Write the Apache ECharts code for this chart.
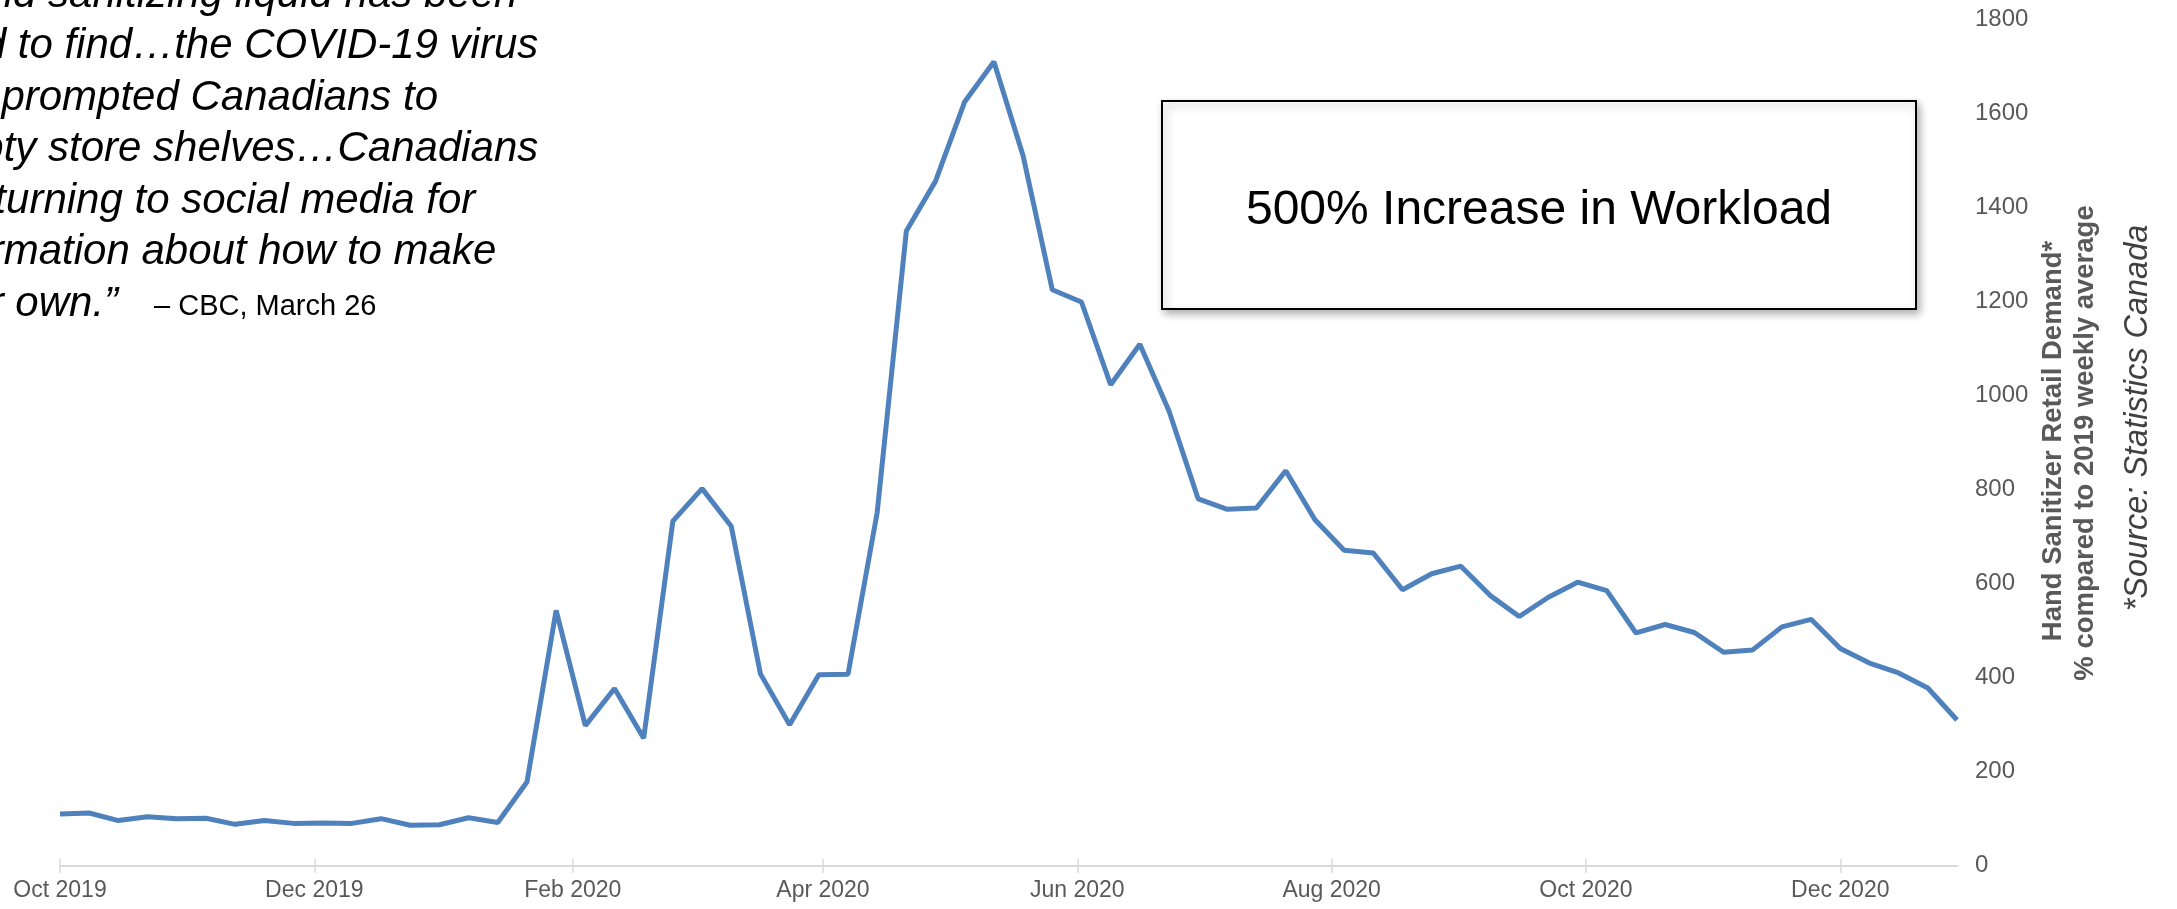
<!DOCTYPE html>
<html lang="en">
	<head>
		<meta charset="utf-8">
	</head>
	<body style="margin: 0">
		<div id="container" style="width: 2177px; height: 909px"></div>
		<script type="text/javascript" src="https://cdn.jsdelivr.net/npm/echarts@6/dist/echarts.min.js"></script>
		<script type="text/javascript">
			// weekly points, % of 2019 weekly average
			var weeks = [
				'2019-10-01', '2019-10-08', '2019-10-15', '2019-10-22', '2019-10-29', '2019-11-05', '2019-11-12', '2019-11-19',
				'2019-11-26', '2019-12-03', '2019-12-10', '2019-12-17', '2019-12-24', '2019-12-31', '2020-01-07', '2020-01-14',
				'2020-01-21', '2020-01-28', '2020-02-04', '2020-02-11', '2020-02-18', '2020-02-25', '2020-03-03', '2020-03-10',
				'2020-03-17', '2020-03-24', '2020-03-31', '2020-04-07', '2020-04-14', '2020-04-21', '2020-04-28', '2020-05-05',
				'2020-05-12', '2020-05-19', '2020-05-26', '2020-06-02', '2020-06-09', '2020-06-16', '2020-06-23', '2020-06-30',
				'2020-07-07', '2020-07-14', '2020-07-21', '2020-07-28', '2020-08-04', '2020-08-11', '2020-08-18', '2020-08-25',
				'2020-09-01', '2020-09-08', '2020-09-15', '2020-09-22', '2020-09-29', '2020-10-06', '2020-10-13', '2020-10-20',
				'2020-10-27', '2020-11-03', '2020-11-10', '2020-11-17', '2020-11-24', '2020-12-01', '2020-12-08', '2020-12-15',
				'2020-12-22', '2020-12-29'
			]
			var demand = [
				110, 112, 96, 104, 100, 101, 88, 96,
				90, 91, 90, 100, 86, 87, 102, 92,
				178, 543, 298, 377, 271, 733, 802, 722,
				408, 300, 406, 407, 751, 1350, 1456, 1625,
				1710, 1510, 1225, 1199, 1023, 1109, 967, 780,
				758, 761, 840, 736, 671, 665, 587, 621,
				637, 575, 530, 571, 603, 585, 495, 513,
				496, 454, 459, 508, 524, 462, 431, 410,
				378, 310
			]
			var tickDates = ['2019-10-01', '2019-12-01', '2020-02-01', '2020-04-01', '2020-06-01', '2020-08-01', '2020-10-01', '2020-12-01']
			var tickLabels = ['Oct 2019', 'Dec 2019', 'Feb 2020', 'Apr 2020', 'Jun 2020', 'Aug 2020', 'Oct 2020', 'Dec 2020']
			var quoteLines = [
				'\u201cHand sanitizing liquid has been',
				'hard to find\u2026the COVID-19 virus',
				'has prompted Canadians to',
				'empty store shelves\u2026Canadians',
				'are turning to social media for',
				'information about how to make',
				'their own.\u201d'
			]

			// dates -> day number (UTC, so no DST jumps)
			function toDay(s) {
				let p = s.split('-').map(Number)
				return Date.UTC(p[0], p[1] - 1, p[2]) / 86400000
			}
			var tickDays = tickDates.map(toDay)

			var chartDom = document.getElementById('container');
			var myChart = echarts.init(chartDom);
			var option;

			option = {
				animation: false,
				textStyle: {
					fontFamily: 'Liberation Sans'
				},
				grid: {
					left: 60,
					right: 220,
					top: 19.4,
					bottom: 43.3,
					outerBoundsMode: 'none'
				},
				xAxis: [{
						type: 'value',
						min: toDay(weeks[0]),
						max: toDay(weeks[weeks.length - 1]),
						axisLine: {
							lineStyle: {
								color: '#d9d9d9',
								width: 2
							}
						},
						axisTick: {
							length: 7,
							customValues: tickDays,
							lineStyle: {
								color: '#d9d9d9',
								width: 1.5
							}
						},
						axisLabel: {
							customValues: tickDays,
							margin: 13,
							color: '#595959',
							fontSize: 23,
							formatter: function(v) {
								return tickLabels[tickDays.indexOf(v)]
							}
						},
						splitLine: {
							show: false
						}
					},
					// same axis again, only for the upper half of the ticks
					{
						type: 'value',
						position: 'bottom',
						min: toDay(weeks[0]),
						max: toDay(weeks[weeks.length - 1]),
						axisLine: {
							show: false
						},
						axisTick: {
							inside: true,
							length: 7,
							customValues: tickDays,
							lineStyle: {
								color: '#d9d9d9',
								width: 1.5
							}
						},
						axisLabel: {
							show: false
						},
						splitLine: {
							show: false
						}
					}
				],
				yAxis: {
					type: 'value',
					position: 'right',
					min: 0,
					max: 1800,
					interval: 200,
					axisLine: {
						show: false
					},
					axisTick: {
						show: false
					},
					splitLine: {
						show: false
					},
					axisLabel: {
						margin: 18,
						color: '#595959',
						fontSize: 24,
						formatter: function(v) {
							return String(v)
						}
					}
				},
				series: [{
					name: 'Hand Sanitizer Retail Demand',
					type: 'line',
					symbol: 'none',
					lineStyle: {
						color: '#4f81bd',
						width: 5
					},
					emphasis: {
						disabled: true
					},
					data: weeks.map((d, i) => [toDay(d), demand[i]])
				}],
				graphic: [{
						type: 'text',
						x: -78,
						y: -30.5,
						style: {
							text: quoteLines.join('\n'),
							font: 'italic 42px "Liberation Sans"',
							lineHeight: 51.5,
							fill: '#000',
							verticalAlign: 'top'
						}
					},
					{
						type: 'text',
						x: 154,
						y: 307,
						style: {
							text: '\u2013 CBC, March 26',
							font: '29px "Liberation Sans"',
							fill: '#000',
							verticalAlign: 'middle'
						}
					},
					{
						type: 'rect',
						shape: {
							x: 1162,
							y: 101,
							width: 754,
							height: 208
						},
						style: {
							fill: '#fff',
							stroke: '#000',
							lineWidth: 2,
							shadowBlur: 8,
							shadowOffsetX: 3,
							shadowOffsetY: 4,
							shadowColor: 'rgba(0,0,0,0.3)'
						}
					},
					{
						type: 'text',
						x: 1539,
						y: 211,
						style: {
							text: '500% Increase in Workload',
							font: '48px "Liberation Sans"',
							fill: '#000',
							align: 'center',
							verticalAlign: 'middle',
							shadowBlur: 4,
							shadowOffsetX: 2,
							shadowOffsetY: 3,
							shadowColor: 'rgba(0,0,0,0.35)'
						}
					},
					// y axis title, two lines, plus the source
					{
						type: 'text',
						x: 2053,
						y: 441,
						rotation: Math.PI / 2,
						style: {
							text: 'Hand Sanitizer Retail Demand*',
							font: 'bold 27.5px "Liberation Sans"',
							fill: '#595959',
							align: 'center',
							verticalAlign: 'middle'
						}
					},
					{
						type: 'text',
						x: 2085,
						y: 443,
						rotation: Math.PI / 2,
						style: {
							text: '% compared to 2019 weekly average',
							font: 'bold 27.5px "Liberation Sans"',
							fill: '#595959',
							align: 'center',
							verticalAlign: 'middle'
						}
					},
					{
						type: 'text',
						x: 2138,
						y: 418,
						rotation: Math.PI / 2,
						style: {
							text: '*Source: Statistics Canada',
							font: 'italic 32.5px "Liberation Sans"',
							fill: '#404040',
							align: 'center',
							verticalAlign: 'middle'
						}
					}
				]
			};

			option && myChart.setOption(option);
		</script>
	</body>
</html>
